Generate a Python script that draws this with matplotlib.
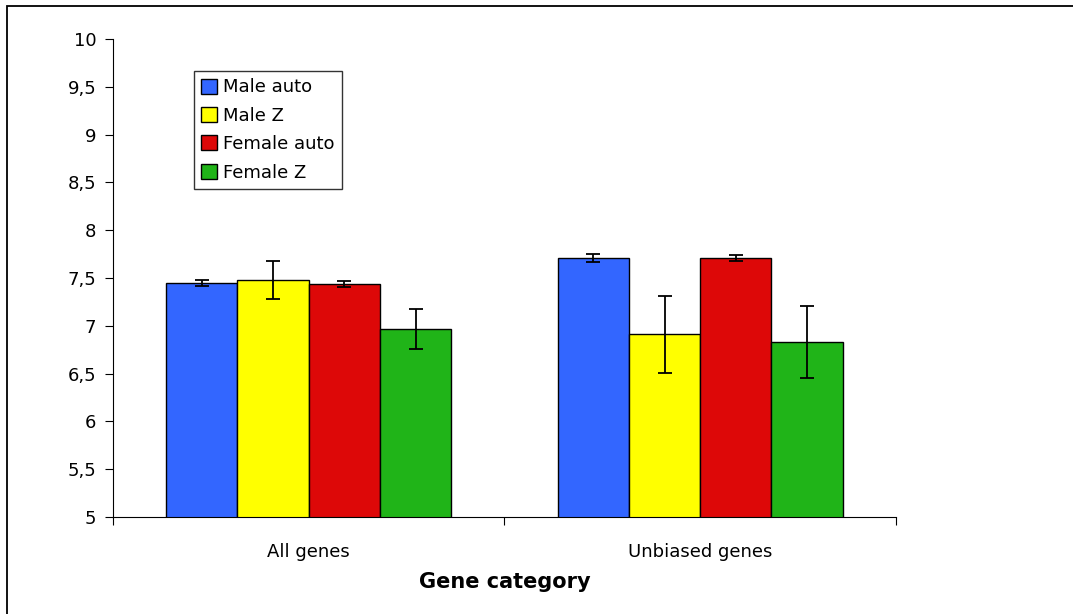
import matplotlib.pyplot as plt
import numpy as np
from matplotlib.patches import Rectangle

# Data
categories = ['All genes', 'Unbiased genes']
series = ['Male auto', 'Male Z', 'Female auto', 'Female Z']
means = [
    [7.45, 7.71],   # Male auto
    [7.48, 6.91],   # Male Z
    [7.44, 7.71],   # Female auto
    [6.97, 6.83],   # Female Z
]
errors = [
    [0.03, 0.04],
    [0.20, 0.40],
    [0.03, 0.03],
    [0.21, 0.38],
]
colors = ['#3366FF', '#FFFF00', '#DD0808', '#20B418']

fig = plt.figure(figsize=(10.73, 6.14), dpi=100)
ax = fig.add_axes([0.1053, 0.158, 0.7297, 0.7785])

# outer chart border (top and left visible)
fig.patches.append(Rectangle((7 / 1073, -0.1), 1.2, 1.1 - 6 / 614, transform=fig.transFigure,
                             fill=False, edgecolor='black', linewidth=1.3))

x = np.arange(len(categories))
bar_width = 0.182
offsets = (np.arange(len(series)) - 1.5) * bar_width

for i, name in enumerate(series):
    ax.bar(x + offsets[i], means[i], bar_width, bottom=0, color=colors[i],
           edgecolor='black', linewidth=1.0, label=name,
           yerr=errors[i], capsize=4.7,
           error_kw=dict(elinewidth=1.3, capthick=1.3, ecolor='black'))

ax.set_ylim(5, 10)
ax.set_xlim(-0.5, 1.5)
ax.set_yticks(np.arange(5, 10.01, 0.5))
ax.set_yticklabels([f'{v:g}'.replace('.', ',') for v in np.arange(5, 10.01, 0.5)])

# category labels between tick marks like Excel
ax.set_xticks([-0.5, 0.5, 1.5])
ax.set_xticklabels([])
ax.set_xticks(x, minor=True)
ax.set_xticklabels(categories, minor=True)
ax.tick_params(axis='x', which='minor', length=0, pad=19, labelsize=13)
ax.tick_params(axis='x', which='major', length=6, direction='out')
ax.tick_params(axis='y', length=6, direction='out', labelsize=13, pad=6)

for s in ['top', 'right']:
    ax.spines[s].set_visible(False)

ax.set_xlabel('Gene category', fontsize=15, fontweight='bold', labelpad=8)

leg = ax.legend(loc='upper left', bbox_to_anchor=(0.1034, 0.933), borderaxespad=0,
                fontsize=13, frameon=True, fancybox=False, edgecolor='black',
                handlelength=0.9, handleheight=0.9, handletextpad=0.3,
                labelspacing=0.58, borderpad=0.4)
leg.get_frame().set_linewidth(1.0)

fig.savefig('out.png', dpi=100)
